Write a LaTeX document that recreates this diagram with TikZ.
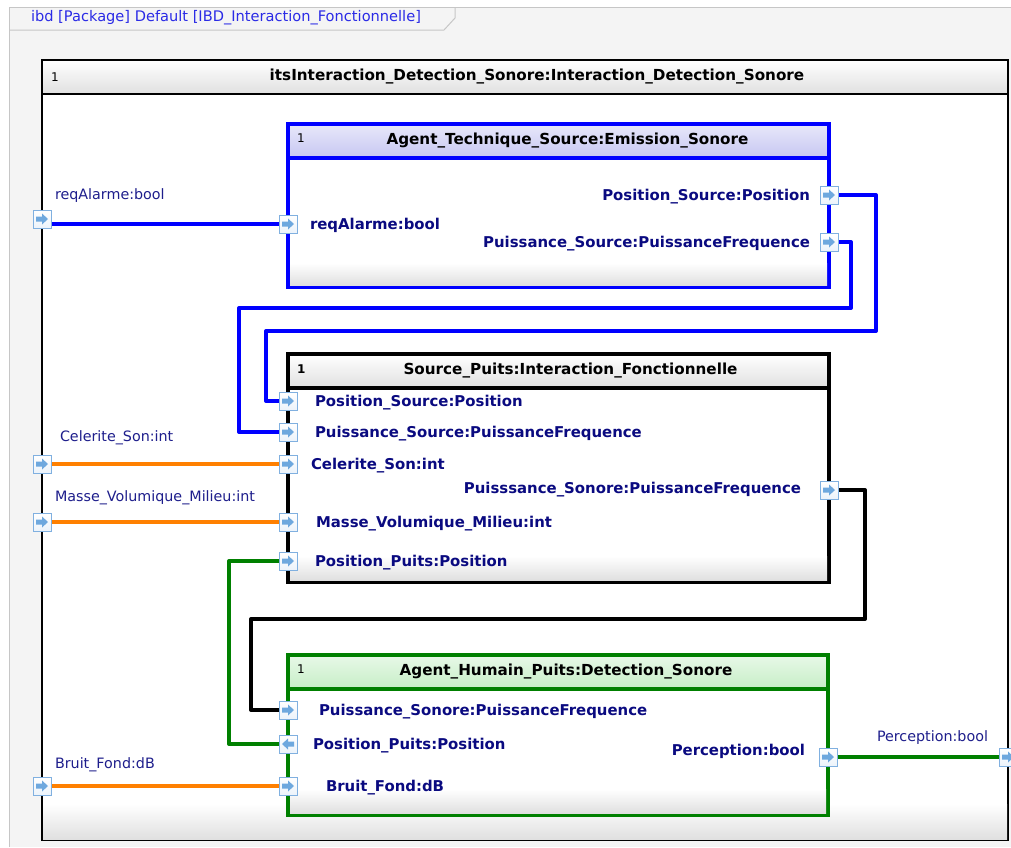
\documentclass[tikz,border=0pt]{standalone}
\usepackage{fontspec}
\setmainfont{DejaVu Sans}
\usepackage{xcolor}
\usepackage{tikz}
\usetikzlibrary{positioning}

\definecolor{frameback}{HTML}{F4F4F4}
\definecolor{frameline}{HTML}{C6C6C6}
\definecolor{tabtext}{HTML}{2A2AE6}
\definecolor{labelnavy}{HTML}{0A0A80}
\definecolor{extnavy}{HTML}{1E1E8C}
\definecolor{portedge}{HTML}{80B0E0}
\definecolor{portarrow}{HTML}{6EA8DE}
\definecolor{techblue}{HTML}{0000FF}
\definecolor{techhead}{HTML}{C6C6F2}
\definecolor{humgreen}{HTML}{008000}
\definecolor{humhead}{HTML}{C6EEC6}
\definecolor{milorange}{HTML}{FF8000}
\definecolor{bodyshade}{HTML}{E0E0E0}

\pgfdeclarelayer{back}
\pgfdeclarelayer{wires}
\pgfsetlayers{back,wires,main}

\begin{document}
\begin{tikzpicture}[x=1pt, y=-1pt,
    every node/.style={inner sep=0pt, outer sep=0pt},
    block/.style={draw, line width=4pt, fill=white, anchor=north west},
    head/.style={draw, line width=4pt, anchor=north west, minimum height=34pt},
    title/.style={font=\fontsize{15.2}{18}\selectfont\bfseries},
    mult/.style={font=\fontsize{12}{14}\selectfont, anchor=west},
    portbase/.style={draw=portedge, top color=white, bottom color=portedge!15, minimum size=18pt, line width=0.9pt},
    port/.style={portbase, path picture={\fill[portarrow, shift={(path picture bounding box.center)}]
        (-6,-2.5) -- (0,-2.5) -- (0,-5.5) -- (6,0) -- (0,5.5) -- (0,2.5) -- (-6,2.5) -- cycle;}},
    portin/.style={portbase, path picture={\fill[portarrow, shift={(path picture bounding box.center)}]
        (6,-2.5) -- (0,-2.5) -- (0,-5.5) -- (-6,0) -- (0,5.5) -- (0,2.5) -- (6,2.5) -- cycle;}},
    plabel/.style={text=labelnavy, font=\fontsize{14.9}{17}\selectfont\bfseries, yshift=-1.5pt},
    xlabel/.style={text=extnavy, font=\fontsize{14.3}{17}\selectfont, anchor=west},
    wire/.style={line width=4pt, line join=round},
    bodyfade/.style={top color=white, bottom color=bodyshade}]
  \useasboundingbox (0,0) rectangle (1011,847);

  \begin{pgfonlayer}{back}
  % diagram frame and tab
  \fill[frameback] (9,7) rectangle (1011,847);
  \draw[frameline, line width=1pt] (9,847) -- (9,7) -- (1011,7);
  \draw[frameline, line width=1pt] (455,7) -- (455,18) -- (444,30) -- (9,30);

  % outer block
  \node[block, line width=1.6pt, minimum width=966pt, minimum height=780pt] (outer) at (42,60) {};
  \shade[bodyfade] ([shift={(1pt,36pt)}]outer.south west) rectangle ([shift={(-1pt,1pt)}]outer.south east);
  \node[head, line width=1.6pt, top color=white, bottom color=bodyshade, minimum width=966pt]
    (outerhead) at (outer.north west) {};

  % parts
  \node[block, draw=techblue, minimum width=541pt, minimum height=163pt] (agent) at (288,124) {};
  \shade[bodyfade] ([shift={(2pt,24pt)}]agent.south west) rectangle ([shift={(-2pt,2pt)}]agent.south east);
  \node[head, draw=techblue, top color=techhead!40, bottom color=techhead, minimum width=541pt]
    (agenthead) at (agent.north west) {};

  \node[block, draw=black, minimum width=541pt, minimum height=228pt] (inter) at (288,354) {};
  \shade[bodyfade] ([shift={(2pt,26pt)}]inter.south west) rectangle ([shift={(-2pt,2pt)}]inter.south east);
  \node[head, draw=black, top color=white, bottom color=bodyshade, minimum width=541pt]
    (interhead) at (inter.north west) {};

  \node[block, draw=humgreen, minimum width=540pt, minimum height=160pt] (human) at (288,655) {};
  \shade[bodyfade] ([shift={(2pt,26pt)}]human.south west) rectangle ([shift={(-2pt,2pt)}]human.south east);
  \node[head, draw=humgreen, top color=humhead!40, bottom color=humhead, minimum width=540pt]
    (humanhead) at (human.north west) {};
  \end{pgfonlayer}

  \node[anchor=west, text=tabtext, font=\fontsize{14.6}{17}\selectfont] (tab)
    at (31,18) {ibd [Package] Default [IBD\_Interaction\_Fonctionnelle]};

  \node[mult] (outermult) at ([xshift=9pt]outerhead.west) {1};
  \node[title] (outertitle) at ([xshift=12pt]outerhead.center)
    {itsInteraction\_Detection\_Sonore:Interaction\_Detection\_Sonore};
  \node[mult] (agentmult) at ([xshift=9pt,yshift=3pt]agenthead.west) {1};
  \node[title] (agenttitle) at ([xshift=9pt]agenthead.center) {Agent\_Technique\_Source:Emission\_Sonore};
  \node[mult, font=\fontsize{12}{14}\selectfont\bfseries] (intermult) at ([xshift=9pt,yshift=2pt]interhead.west) {1};
  \node[title] (intertitle) at ([xshift=12pt]interhead.center) {Source\_Puits:Interaction\_Fonctionnelle};
  \node[mult] (humanmult) at ([xshift=9pt,yshift=3pt]humanhead.west) {1};
  \node[title] (humantitle) at ([xshift=8pt]humanhead.center) {Agent\_Humain\_Puits:Detection\_Sonore};

  % ports
  \node[port] (pReq) at (42,219) {};
  \node[port] (pCel) at (42,464) {};
  \node[port] (pMas) at (42,522) {};
  \node[port] (pBru) at (42,786) {};
  \node[port] (pPer) at (1008,757) {};
  \node[port] (pAreq) at (288,224) {};
  \node[port] (pAps) at (829,195) {};
  \node[port] (pApw) at (829,242) {};
  \node[port] (pBps) at (288,401) {};
  \node[port] (pBpw) at (288,432) {};
  \node[port] (pBcs) at (288,464) {};
  \node[port] (pBmv) at (288,522) {};
  \node[port] (pBpp) at (288,561) {};
  \node[port] (pBsn) at (829,490) {};
  \node[port] (pCsn) at (288,710) {};
  \node[portin] (pCpp) at (288,744) {};
  \node[port] (pCbf) at (288,786) {};
  \node[port] (pCpc) at (828,757) {};

  % port names
  \node[plabel, right=13pt of pAreq] (lAreq) {reqAlarme:bool};
  \node[plabel, left=10pt of pAps] (lAps) {Position\_Source:Position};
  \node[plabel, left=10pt of pApw] (lApw) {Puissance\_Source:PuissanceFrequence};
  \node[plabel, right=18pt of pBps] (lBps) {Position\_Source:Position};
  \node[plabel, right=18pt of pBpw] (lBpw) {Puissance\_Source:PuissanceFrequence};
  \node[plabel, right=14pt of pBcs] (lBcs) {Celerite\_Son:int};
  \node[plabel, right=19pt of pBmv] (lBmv) {Masse\_Volumique\_Milieu:int};
  \node[plabel, right=18pt of pBpp] (lBpp) {Position\_Puits:Position};
  \node[plabel, anchor=east] (lBsn) at (801,488) {Puisssance\_Sonore:PuissanceFrequence};
  \node[plabel, right=22pt of pCsn] (lCsn) {Puissance\_Sonore:PuissanceFrequence};
  \node[plabel, right=16pt of pCpp] (lCpp) {Position\_Puits:Position};
  \node[plabel, right=29pt of pCbf] (lCbf) {Bruit\_Fond:dB};
  \node[plabel, anchor=east] (lCpc) at (805,750) {Perception:bool};

  \node[xlabel] (lReq) at (55,196) {reqAlarme:bool};
  \node[xlabel] (lCel) at (60,438) {Celerite\_Son:int};
  \node[xlabel] (lMas) at (55,498) {Masse\_Volumique\_Milieu:int};
  \node[xlabel] (lBru) at (55,765) {Bruit\_Fond:dB};
  \node[xlabel] (lPer) at (877,738) {Perception:bool};

  % connectors
  \begin{pgfonlayer}{wires}
  \draw[wire, techblue] (pReq |- pAreq) -- (pAreq.center);
  \draw[wire, techblue] (pAps.center) -| (876,331) -- (266,331) |- (pBps.center);
  \draw[wire, techblue] (pApw.center) -| (851,308) -- (239,308) |- (pBpw.center);
  \draw[wire, milorange] (pCel.center) -- (pBcs.center);
  \draw[wire, milorange] (pMas.center) -- (pBmv.center);
  \draw[wire, milorange] (pBru.center) -- (pCbf.center);
  \draw[wire, humgreen] (pBpp.center) -- ++(-59,0) |- (pCpp.center);
  \draw[wire, black] (pBsn.center) -| (865,619) -- (251,619) |- (pCsn.center);
  \draw[wire, humgreen] (pCpc.center) -- (pPer.center);
  \end{pgfonlayer}
\end{tikzpicture}
\end{document}
